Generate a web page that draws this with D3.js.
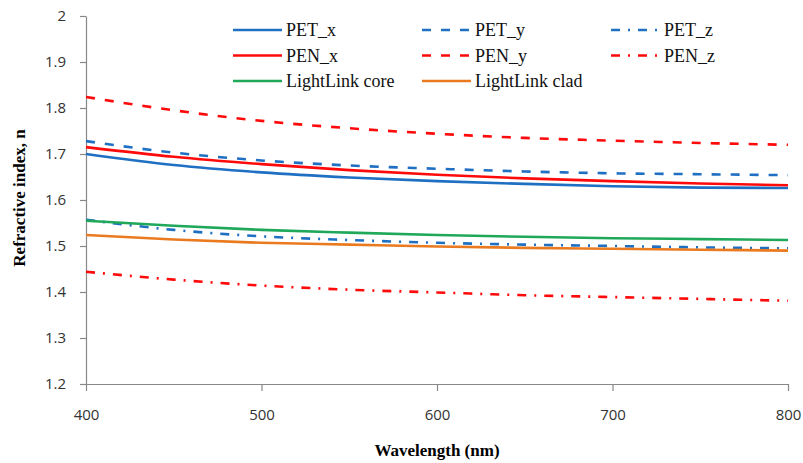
<!DOCTYPE html>
<html>
<head>
<meta charset="utf-8">
<script src="https://cdn.jsdelivr.net/npm/d3@7"></script>
<style>
  body { margin: 0; background: #fff; }
  svg { display: block; }
</style>
</head>
<body>
<div id="chart"></div>
<script>
// Longitudes de onda (nm)
const wavelengths = [400, 450, 500, 550, 600, 650, 700, 750, 800];

// Índices de refracción
const petX = [1.700, 1.676, 1.660, 1.649, 1.641, 1.635, 1.630, 1.627, 1.626];
const petY = [1.728, 1.703, 1.686, 1.675, 1.668, 1.662, 1.658, 1.656, 1.654];
const petZ = [1.557, 1.535, 1.521, 1.513, 1.507, 1.503, 1.500, 1.497, 1.495];
const penX = [1.715, 1.694, 1.678, 1.665, 1.655, 1.647, 1.641, 1.636, 1.632];
const penY = [1.824, 1.795, 1.772, 1.756, 1.744, 1.735, 1.729, 1.724, 1.720];
const penZ = [1.444, 1.427, 1.414, 1.405, 1.399, 1.393, 1.389, 1.385, 1.381];
const llCore = [1.555, 1.544, 1.535, 1.529, 1.524, 1.520, 1.517, 1.515, 1.513];
const llClad = [1.524, 1.514, 1.507, 1.503, 1.499, 1.496, 1.494, 1.492, 1.490];

const xTicks = [400, 500, 600, 700, 800];
const yTicks = [1.2, 1.3, 1.4, 1.5, 1.6, 1.7, 1.8, 1.9, 2];

const blue = "#1f6fc2";
const red = "#ff0a0a";

const series = [
  { name: "PET_x", values: petX, color: blue, dash: null },
  { name: "PET_y", values: petY, color: blue, dash: "9,10" },
  { name: "PET_z", values: petZ, color: blue, dash: "9,8,2,8" },
  { name: "PEN_x", values: penX, color: red, dash: null },
  { name: "PEN_y", values: penY, color: red, dash: "9,10" },
  { name: "PEN_z", values: penZ, color: red, dash: "9,8,2,8" },
  { name: "LightLink core", values: llCore, color: "#1fa85a", dash: null },
  { name: "LightLink clad", values: llClad, color: "#ea7a20", dash: null }
];

const width = 803;
const height = 463;
const margin = { top: 16, right: 15, bottom: 79, left: 86 };

const svg = d3.select("#chart")
  .append("svg")
  .attr("width", width)
  .attr("height", height);

const x = d3.scaleLinear()
  .domain([400, 800])
  .range([margin.left, width - margin.right]);

const y = d3.scaleLinear()
  .domain([1.2, 2])
  .range([height - margin.bottom, margin.top]);

// Ejes
const xAxis = svg.append("g")
  .attr("transform", `translate(0,${height - margin.bottom})`)
  .call(d3.axisBottom(x).tickValues(xTicks).tickSize(7).tickPadding(18).tickSizeOuter(0));

const yAxis = svg.append("g")
  .attr("transform", `translate(${margin.left},0)`)
  .call(d3.axisLeft(y).tickValues(yTicks).tickSize(6).tickPadding(14)
    .tickFormat(d => d3.format("")(d)).tickSizeOuter(0));

[xAxis, yAxis].forEach(g => {
  g.selectAll("path, line").attr("stroke", "#888").attr("stroke-width", 1.2);
  g.selectAll("text")
    .attr("fill", "#333")
    .style("font-family", "'Open Sans', sans-serif")
    .style("font-size", "15px");
});

// Líneas
const line = d3.line()
  .x((d, i) => x(wavelengths[i]))
  .y(d => y(d))
  .curve(d3.curveMonotoneX);

svg.append("g")
  .selectAll("path")
  .data(series)
  .join("path")
  .attr("d", d => line(d.values))
  .attr("fill", "none")
  .attr("stroke", d => d.color)
  .attr("stroke-width", 2.6)
  .attr("stroke-dasharray", d => d.dash);

// Títulos de los ejes
svg.append("text")
  .attr("x", 437)
  .attr("y", 456)
  .attr("text-anchor", "middle")
  .style("font-family", "'Liberation Serif', serif")
  .style("font-weight", "bold")
  .style("font-size", "17px")
  .text("Wavelength (nm)");

svg.append("text")
  .attr("transform", "translate(25,198) rotate(-90)")
  .attr("text-anchor", "middle")
  .style("font-family", "'Liberation Serif', serif")
  .style("font-weight", "bold")
  .style("font-size", "17px")
  .text("Refractive index, n");

// Leyenda
const legendOrder = ["PET_x", "PET_y", "PET_z", "PEN_x", "PEN_y", "PEN_z", "LightLink core", "LightLink clad"];
const legend = svg.append("g");
legendOrder.forEach((name, i) => {
  const s = series.find(d => d.name === name);
  const col = i % 3;
  const row = Math.floor(i / 3);
  const lx = 233 + col * 189;
  const ly = 30 + row * 25.5;
  legend.append("line")
    .attr("x1", lx).attr("x2", lx + 49)
    .attr("y1", ly).attr("y2", ly)
    .attr("stroke", s.color)
    .attr("stroke-width", 2.6)
    .attr("stroke-dasharray", s.dash);
  legend.append("text")
    .attr("x", lx + 53)
    .attr("y", ly + 6)
    .style("font-family", "'Liberation Serif', serif")
    .style("font-size", "18px")
    .attr("fill", "#111")
    .text(name);
});
</script>
</body>
</html>
